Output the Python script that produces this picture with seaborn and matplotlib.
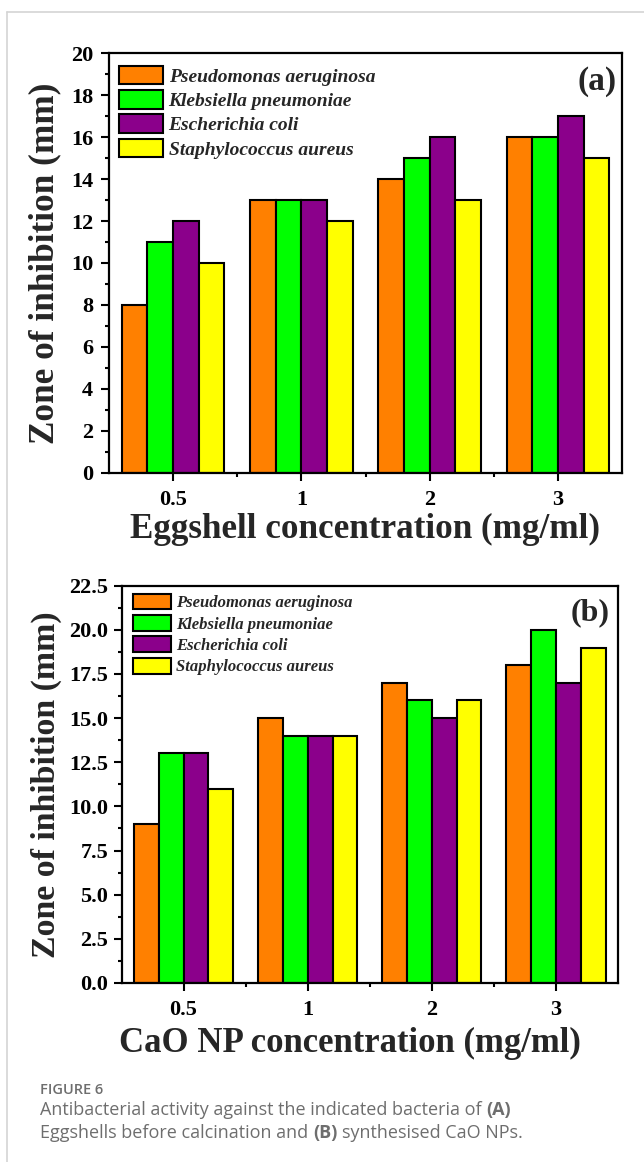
import pandas as pd
import seaborn as sns
import matplotlib
matplotlib.use("Agg")
from matplotlib import pyplot as plt
from matplotlib.patches import Patch
from matplotlib.lines import Line2D
from matplotlib.ticker import MultipleLocator

# data
concentrations = ["0.5", "1", "2", "3"]
bacteria = ["Pseudomonas aeruginosa", "Klebsiella pneumoniae",
            "Escherichia coli", "Staphylococcus aureus"]
colors = ["#FF8000", "#00FF00", "#8B008B", "#FFFF00"]

eggshell_pseudomonas = [8, 13, 14, 16]
eggshell_klebsiella = [11, 13, 15, 16]
eggshell_ecoli = [12, 13, 16, 17]
eggshell_staph = [10, 12, 13, 15]

cao_pseudomonas = [9, 15, 17, 18]
cao_klebsiella = [13, 14, 16, 20]
cao_ecoli = [13, 14, 15, 17]
cao_staph = [11, 14, 16, 19]


def long_table(series):
    rows = []
    for name, vals in zip(bacteria, series):
        for c, v in zip(concentrations, vals):
            rows.append({"conc": c, "bacteria": name, "zone": v})
    return pd.DataFrame(rows)


df_a = long_table([eggshell_pseudomonas, eggshell_klebsiella, eggshell_ecoli, eggshell_staph])
df_b = long_table([cao_pseudomonas, cao_klebsiella, cao_ecoli, cao_staph])

sns.set_style("white")
plt.rcParams["font.family"] = ["Liberation Serif", "DejaVu Serif"]

W, H = 644, 1162
fig = plt.figure(figsize=(W / 100, H / 100), dpi=100)


def panel(rect, df, ymax, ystep, yminor, ylabel, xlabel, tag, leg_anchor, leg_fs,
          ylab_x, xlab_xy, tag_xy, tag_fs, ylab_fs, xlab_fs, ypad):
    ax = fig.add_axes(rect)
    sns.barplot(data=df, x="conc", y="zone", hue="bacteria", order=concentrations,
                hue_order=bacteria, palette=colors, saturation=1, width=0.8,
                edgecolor="black", linewidth=1.5, legend=False, ax=ax)
    ax.set_xlim(-0.5, 3.5)
    ax.set_ylim(0, ymax)
    ax.yaxis.set_major_locator(MultipleLocator(ystep))
    ax.yaxis.set_minor_locator(MultipleLocator(yminor))
    ax.set_xticks([0.5, 1.5, 2.5], minor=True)
    if ystep < 1:
        ax.set_yticks(ax.get_yticks())
        ax.set_yticklabels([f"{t:.1f}" for t in ax.get_yticks()])
    for s in ax.spines.values():
        s.set_linewidth(1.6)
        s.set_color("black")
    ax.tick_params(which="both", direction="out", left=True, bottom=True,
                   top=False, right=False, width=1.5, colors="black")
    ax.tick_params(which="major", length=6, labelsize=16)
    ax.tick_params(axis="y", which="major", pad=ypad)
    ax.tick_params(axis="x", which="major", pad=6.5)
    ax.tick_params(which="minor", length=3)
    for lab in ax.get_xticklabels() + ax.get_yticklabels():
        lab.set_fontweight("bold")
    ax.set_ylabel(ylabel, fontsize=ylab_fs, fontweight="bold")
    ax.set_xlabel(xlabel, fontsize=xlab_fs, fontweight="bold")
    ax.yaxis.set_label_coords(ylab_x, 0.5)
    ax.xaxis.set_label_coords(*xlab_xy)
    ax.text(tag_xy[0], tag_xy[1], tag, transform=ax.transAxes, ha="right", va="center",
            fontsize=tag_fs, fontweight="bold")
    handles = [Patch(facecolor=c, edgecolor="black", linewidth=1.5) for c in colors]
    ax.legend(handles, bacteria, loc="upper left", bbox_to_anchor=leg_anchor,
              frameon=False, borderpad=0, borderaxespad=0, handlelength=2.25,
              handleheight=1.08, labelspacing=0.23, handletextpad=0.3,
              prop={"family": "Liberation Serif", "style": "italic",
                    "weight": "bold", "size": leg_fs})
    return ax


ax_a = panel([109 / W, 1 - 472.7 / H, 513 / W, 419.4 / H], df_a, 20, 2, 1,
             "Zone of inhibition (mm)", "Eggshell concentration (mg/ml)", "(a)",
             (0.0195, 0.970), 14, -0.092, (0.5, -0.095), (0.990, 0.932), 24,
             25.4, 25.3, 5.5)
ax_b = panel([121.5 / W, 1 - 983 / H, 496.5 / W, 397.3 / H], df_b, 22.5, 2.5, 1.25,
             "Zone of inhibition (mm)", "CaO NP concentration (mg/ml)", "(b)",
             (0.024, 0.980), 12, -0.12, (0.46, -0.11), (0.984, 0.931), 23,
             24.4, 25, 3.5)

# light frame around the figure (left and top edges)
fig.add_artist(Line2D([7 / W, 7 / W], [0, 1 - 12 / H], color="#d4d4d4", lw=1.2))
fig.add_artist(Line2D([7 / W, 1], [1 - 12 / H, 1 - 12 / H], color="#d4d4d4", lw=1.2))

# caption
cap = {"family": ["Open Sans", "DejaVu Sans"], "color": "#6e6e6e"}
fs = 13
fig.text(40 / W, 1 - 1090 / H, "FIGURE 6", fontsize=10.5, fontweight="semibold",
         va="center", ha="left", **cap)
l1 = fig.text(40 / W, 1 - 1110 / H, "Antibacterial activity against the indicated bacteria of",
              fontsize=fs, va="center", ha="left", **cap)
ax_b.annotate("(A)", xy=(1, 0), xycoords=l1, xytext=(3.5, 0), textcoords="offset points",
              va="bottom", ha="left", fontsize=fs, fontweight="bold",
              annotation_clip=False, **cap)
l2 = fig.text(40 / W, 1 - 1133 / H, "Eggshells before calcination and",
              fontsize=fs, va="center", ha="left", **cap)
b2 = ax_b.annotate("(B)", xy=(1, 0), xycoords=l2, xytext=(3.5, 0), textcoords="offset points",
                   va="bottom", ha="left", fontsize=fs, fontweight="bold",
                   annotation_clip=False, **cap)
ax_b.annotate("synthesised CaO NPs.", xy=(1, 0), xycoords=b2, xytext=(3.5, 0),
              textcoords="offset points", va="bottom", ha="left", fontsize=fs,
              annotation_clip=False, **cap)

fig.savefig("out.png", dpi=100)
